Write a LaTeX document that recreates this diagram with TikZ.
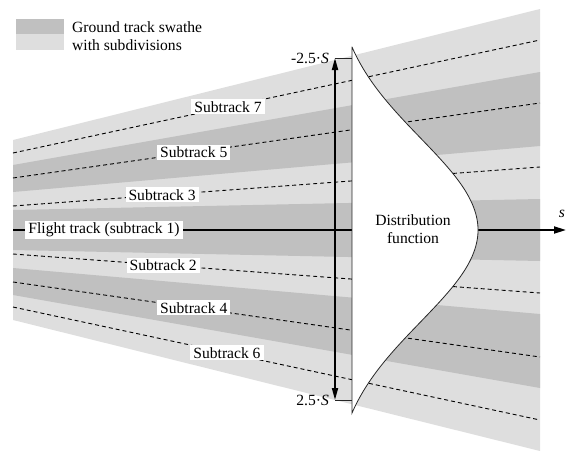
\documentclass[tikz,border=0pt]{standalone}
\usepackage{fontspec}
\setmainfont{Liberation Serif}
\usetikzlibrary{arrows.meta}
\definecolor{bandlight}{HTML}{DEDEDE}
\definecolor{banddark}{HTML}{C0C0C0}
\begin{document}
\begin{tikzpicture}[x=1pt,y=-1pt,
  txt/.style={font=\fontsize{15.6}{18}\selectfont, inner sep=0pt},
  lbl/.style={txt, fill=white, inner xsep=3pt, inner ysep=2pt},
  sub/.style={dash pattern=on 4pt off 3pt, line width=0.9pt},
  axisline/.style={line width=1.8pt, -{Triangle[length=12pt,width=7pt]}},
  dblarrow/.style={line width=1.8pt, {Triangle[length=12pt,width=6pt]}-{Triangle[length=12pt,width=6pt]}},
  thin/.style={line width=0.8pt, draw=black!85}]
\useasboundingbox (0,0) rectangle (567,450);

% swathe bands
\fill[bandlight] (13,140) -- (540,9) -- (540,451) -- (13,320) -- cycle;
\fill[banddark] (13,165) -- (540,72) -- (540,146) -- (13,192) -- cycle;
\fill[banddark] (13,268) -- (540,314) -- (540,388) -- (13,295) -- cycle;
\fill[banddark] (13,210) -- (540,199) -- (540,261) -- (13,250) -- cycle;

% legend
\fill[banddark] (16,19) rectangle (64,34);
\fill[bandlight] (16,34) rectangle (64,50);
\node[txt, anchor=west, align=left] (legend) at (72,36) {Ground track swathe\\with subdivisions};

% subtrack centre lines
\coordinate (s7a) at (13,153); \coordinate (s7b) at (540,40);
\coordinate (s5a) at (13,178); \coordinate (s5b) at (540,103);
\coordinate (s3a) at (13,206); \coordinate (s3b) at (540,167);
\coordinate (s2a) at (13,254); \coordinate (s2b) at (540,293);
\coordinate (s4a) at (13,282); \coordinate (s4b) at (540,357);
\coordinate (s6a) at (13,307); \coordinate (s6b) at (540,420);
\draw[sub] (s7a) -- (s7b);
\draw[sub] (s5a) -- (s5b);
\draw[sub] (s3a) -- (s3b);
\draw[sub] (s2a) -- (s2b);
\draw[sub] (s4a) -- (s4b);
\draw[sub] (s6a) -- (s6b);

% flight track axis
\coordinate (axL) at (13,230);
\coordinate (axR) at (566,230);
\draw[axisline] (axL) -- (axR);

% distribution function (white region)
\filldraw[fill=white, thin] (352,413) -- (352,47) --
  plot[domain=-1.83:1.83, samples=120, variable=\t]
  ({352+146.2*(exp(-(\t*\t)/1.6928)-0.1383)}, {230+100*\t}) -- cycle;
\node[txt, align=center] (dist) at (413,229) {Distribution\\function};

% labels on subtracks
\path (s7a) -- node[lbl, pos=0.408] (l7) {Subtrack 7} (s7b);
\path (s5a) -- node[lbl, pos=0.343] (l5) {Subtrack 5} (s5b);
\path (s3a) -- node[lbl, pos=0.283] (l3) {Subtrack 3} (s3b);
\path (s2a) -- node[lbl, pos=0.285] (l2) {Subtrack 2} (s2b);
\path (s4a) -- node[lbl, pos=0.343] (l4) {Subtrack 4} (s4b);
\path (s6a) -- node[lbl, pos=0.406] (l6) {Subtrack 6} (s6b);
\node[lbl] (flight) at (104,230) {Flight track (subtrack 1)};

% s label
\node[txt] (slab) at (562,214) {\textit{s}};

% vertical extent arrow with brackets
\coordinate (vt) at (335,58);
\coordinate (vb) at (335,400);
\coordinate (bt) at (352,58);
\coordinate (bb) at (352,400);
\draw[dblarrow] (vb) -- (vt);
\draw[thin] (vt) -- (bt);
\draw[thin] (vb) -- (bb);
\node[txt, anchor=east] (ltop) at (329,58) {-2.5·\textit{S}};
\node[txt, anchor=east] (lbot) at (329,400) {2.5·\textit{S}};
\end{tikzpicture}
\end{document}
